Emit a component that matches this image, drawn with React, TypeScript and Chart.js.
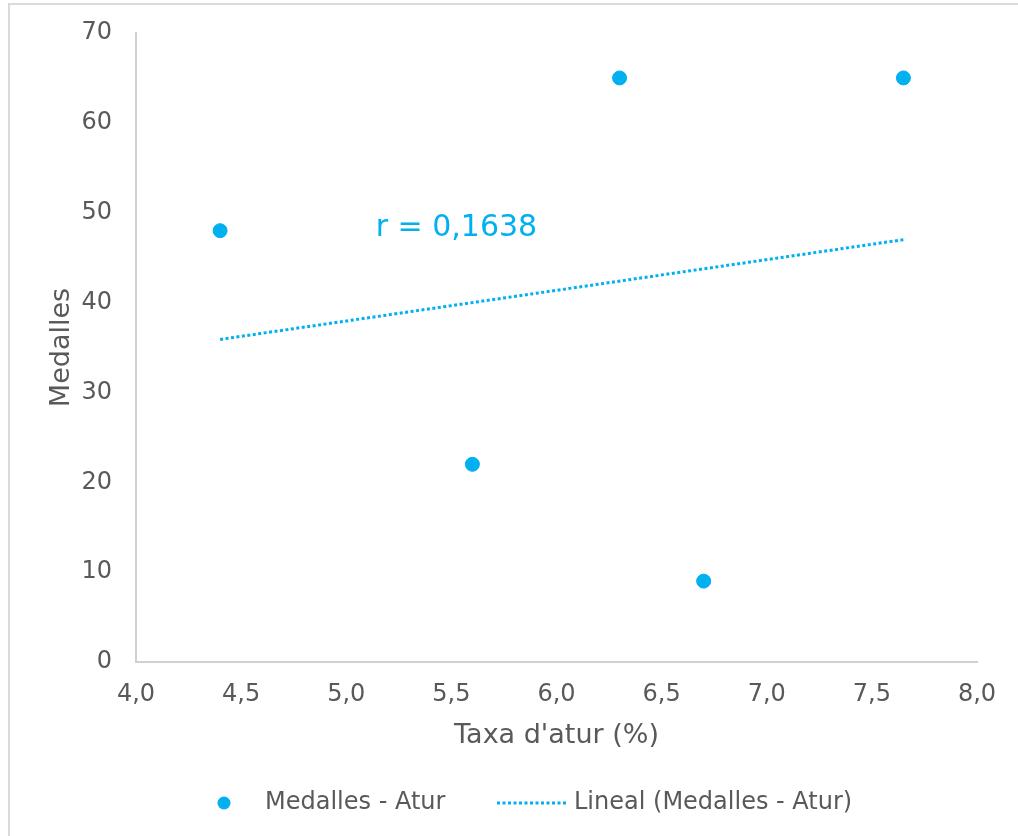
import React, { useEffect, useRef } from "react";
import { Chart, registerables } from "chart.js";

Chart.register(...registerables);

const unemployment = [4.4, 5.6, 6.3, 6.7, 7.65];
const medals = [48, 22, 65, 9, 65];
const trendX = [4.4, 7.65];
const trendY = [35.9, 47.0];
const seriesLabel = "Medalles - Atur";
const trendLabel = "Lineal (Medalles - Atur)";
const rLabel = "r = 0,1638";
const rLabelPos = { x: 5.14, y: 48.3 };
const xTitle = "Taxa d'atur (%)";
const yTitle = "Medalles";

const BLUE = "#00b0f0";
const TEXT = "#595959";
const FONT = "'DejaVu Sans', Verdana, sans-serif";

const overlayPlugin = {
  id: "overlay",
  afterDraw(chart: any) {
    const { ctx, scales } = chart;
    const xs = scales.x;
    const ys = scales.y;
    ctx.save();
    // r annotation
    ctx.fillStyle = BLUE;
    ctx.font = `30px ${FONT}`;
    ctx.textAlign = "left";
    ctx.textBaseline = "middle";
    ctx.fillText(rLabel, xs.getPixelForValue(rLabelPos.x), ys.getPixelForValue(rLabelPos.y));

    // legend
    const ly = 803;
    ctx.beginPath();
    ctx.arc(224, ly, 6.5, 0, Math.PI * 2);
    ctx.fillStyle = BLUE;
    ctx.fill();
    ctx.font = `24px ${FONT}`;
    ctx.fillStyle = TEXT;
    ctx.fillText(seriesLabel, 265, ly);
    ctx.beginPath();
    ctx.setLineDash([3, 2.5]);
    ctx.strokeStyle = BLUE;
    ctx.lineWidth = 3;
    ctx.moveTo(497, ly);
    ctx.lineTo(567, ly);
    ctx.stroke();
    ctx.setLineDash([]);
    ctx.fillText(trendLabel, 574, ly);
    ctx.restore();
  },
};

export default function App() {
  const ref = useRef<HTMLCanvasElement>(null);
  useEffect(() => {
    const canvas = ref.current;
    if (!canvas) return;
    const chart = new Chart(canvas, {
      type: "scatter",
      data: {
        datasets: [
          {
            type: "line",
            label: trendLabel,
            data: trendX.map((x, i) => ({ x, y: trendY[i] })),
            borderColor: BLUE,
            borderWidth: 3,
            borderDash: [3, 2.5],
            pointRadius: 0,
            fill: false,
          } as any,
          {
            label: seriesLabel,
            data: unemployment.map((x, i) => ({ x, y: medals[i] })),
            backgroundColor: BLUE,
            borderColor: BLUE,
            pointRadius: 7,
            pointHoverRadius: 7,
          },
        ],
      },
      options: {
        animation: false,
        responsive: false,
        events: [],
        layout: { padding: { left: 0, top: 33, right: 41, bottom: 0 } },
        plugins: { legend: { display: false }, tooltip: { enabled: false } },
        scales: {
          x: {
            type: "linear",
            min: 4,
            max: 8,
            ticks: {
              stepSize: 0.5,
              color: TEXT,
              font: { family: FONT, size: 24 },
              padding: 18,
              callback: (v: any) => Number(v).toFixed(1).replace(".", ","),
            },
            grid: { display: true, color: "transparent", drawTicks: false },
            border: { display: true, color: "#d0d0d0", width: 2 },
            title: {
              display: true,
              text: xTitle,
              color: TEXT,
              font: { family: FONT, size: 27 },
              padding: { top: 0, bottom: 84 },
            },
            afterFit: (s: any) => {
              s.height = 836 - 662;
              s.paddingLeft = 0;
              s.paddingRight = 0;
            },
          },
          y: {
            type: "linear",
            min: 0,
            max: 70,
            ticks: {
              stepSize: 10,
              color: TEXT,
              font: { family: FONT, size: 24 },
              padding: 24,
            },
            grid: { display: true, color: "transparent", drawTicks: false },
            border: { display: true, color: "#d0d0d0", width: 2 },
            title: {
              display: true,
              text: yTitle,
              color: TEXT,
              font: { family: FONT, size: 27 },
              padding: { top: 46, bottom: 0 },
            },
            afterFit: (s: any) => {
              s.width = 136;
              s.paddingTop = 0;
              s.paddingBottom = 0;
            },
          },
        },
      },
      plugins: [overlayPlugin],
    });
    return () => chart.destroy();
  }, []);

  return (
    <div
      style={{
        position: "fixed",
        left: 0,
        top: 0,
        width: 1018,
        height: 836,
        overflow: "hidden",
        background: "#ffffff",
      }}
    >
      <div
        style={{
          position: "absolute",
          left: 8,
          top: 3,
          width: 1100,
          height: 900,
          border: "2px solid #d9d9d9",
          boxSizing: "border-box",
        }}
      />
      <canvas
        ref={ref}
        width={1018}
        height={836}
        style={{ position: "absolute", left: 0, top: 0, width: 1018, height: 836 }}
      />
    </div>
  );
}
